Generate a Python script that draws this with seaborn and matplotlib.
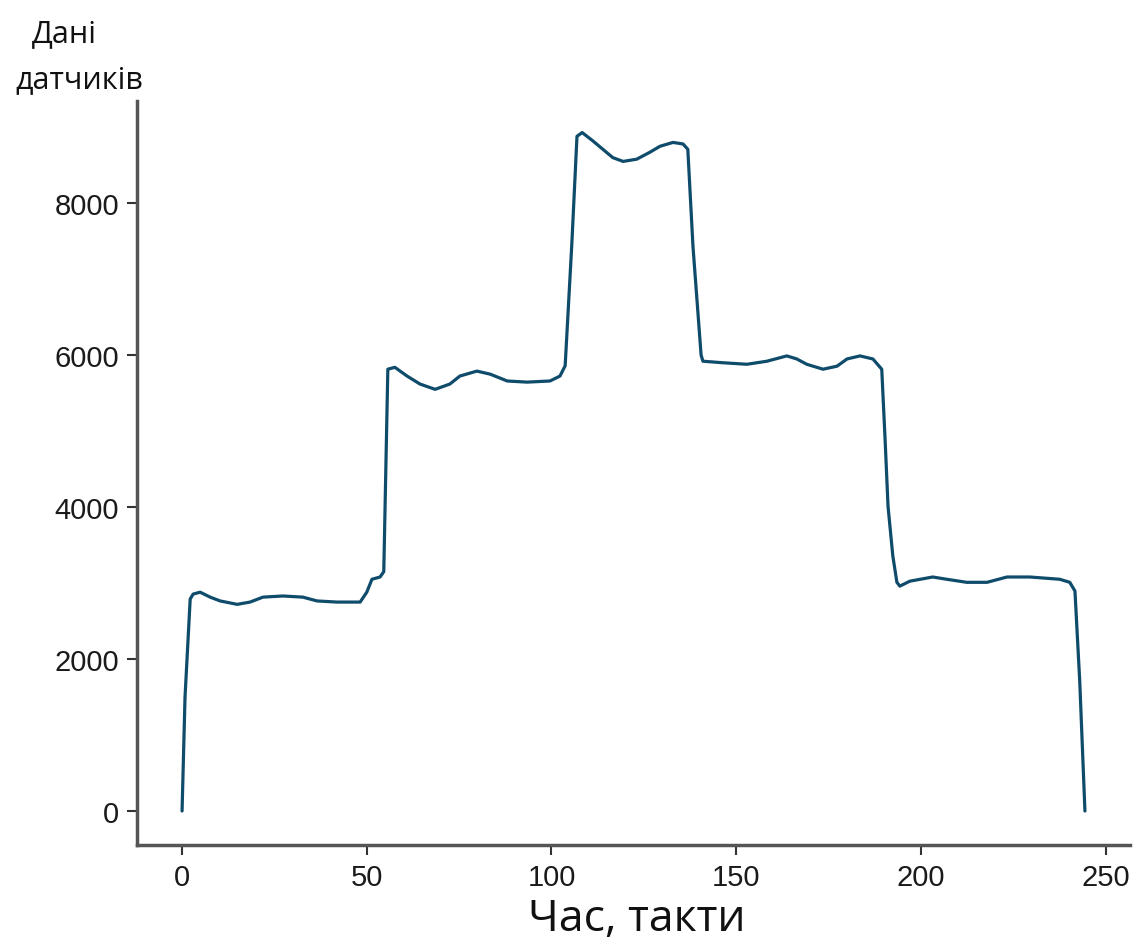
import matplotlib
matplotlib.use("Agg")
import matplotlib.pyplot as plt
import seaborn as sns
import pandas as pd

# Data
time_ticks = [0, 0.8, 2.2, 3.0, 4.9, 7.6, 10.3, 14.9, 18.4, 21.9, 27.3, 32.7, 36.5, 41.9, 48.2, 50.0, 51.4, 53.6, 54.6,
              55.7, 57.6, 60.9, 64.4, 68.5, 72.5, 75.2, 79.8, 83.4, 88.0, 93.4, 99.6, 102.3, 103.7,
              105.5, 106.9, 108.3, 111.2, 113.9, 116.6, 119.4, 123.1, 126.6, 129.4, 132.9, 135.6, 136.9,
              138.3, 140.5, 141.0, 146.4, 152.9, 158.3, 163.7, 166.4, 169.1, 173.5, 177.3, 180.0, 183.5, 187.0, 189.4,
              190.3, 191.1, 192.4, 193.5, 194.3, 197.0, 203.2, 207.0, 212.4, 217.9, 223.3, 229.5, 237.6, 240.3, 241.7,
              243.0, 244.4]
sensor_values = [0, 1500, 2790, 2855, 2880, 2815, 2765, 2720, 2750, 2815, 2830, 2815, 2765, 2750, 2750, 2880, 3050, 3080, 3150,
                 5815, 5840, 5725, 5620, 5550, 5620, 5725, 5790, 5750, 5660, 5645, 5660, 5725, 5860,
                 7460, 8880, 8930, 8820, 8710, 8600, 8550, 8580, 8670, 8750, 8800, 8780, 8710,
                 7430, 6000, 5920, 5900, 5880, 5920, 5990, 5950, 5880, 5815, 5855, 5950, 5990, 5950, 5815,
                 4895, 4010, 3355, 3010, 2960, 3025, 3080, 3050, 3010, 3010, 3080, 3080, 3050, 3010, 2895,
                 1700, 0]

y_ticks = [0, 2000, 4000, 6000, 8000]
x_ticks = [0, 50, 100, 150, 200, 250]

df = pd.DataFrame({"t": time_ticks, "v": sensor_values})

sns.set_theme(style="ticks")
plt.rcParams["font.family"] = ["Liberation Sans", "DejaVu Sans"]

fig = plt.figure(figsize=(11.35, 9.45), dpi=100)
ax = fig.add_axes([0.1207, 0.1048, 0.8749, 0.787])
sns.lineplot(data=df, x="t", y="v", ax=ax, color="#0f4b6b", linewidth=2.3, sort=False)

ax.set_xlim(-12.2, 256.6)
ax.set_ylim(-447, 9342)
ax.set_xticks(x_ticks)
ax.set_yticks(y_ticks)
ax.tick_params(labelsize=21, length=7, width=1.5, pad=6, color="#333333", labelcolor="#1a1a1a")
for s in ["top", "right"]:
    ax.spines[s].set_visible(False)
for s in ["left", "bottom"]:
    ax.spines[s].set_linewidth(2.5)
    ax.spines[s].set_color("#555555")

ax.set_xlabel("")
ax.set_ylabel("")
fig.text(637 / 1135, 1 - 920 / 945, "Час, такти", ha="center", va="center",
         fontsize=32, family=["Open Sans", "DejaVu Sans"], color="#111111")
fig.text(64 / 1135, 1 - 34 / 945, "Дані", ha="center", va="center",
         fontsize=22, family=["Open Sans", "DejaVu Sans"], color="#111111")
fig.text(79 / 1135, 1 - 80 / 945, "датчиків", ha="center", va="center",
         fontsize=22, family=["Open Sans", "DejaVu Sans"], color="#111111")

fig.savefig("out.png", dpi=100)
